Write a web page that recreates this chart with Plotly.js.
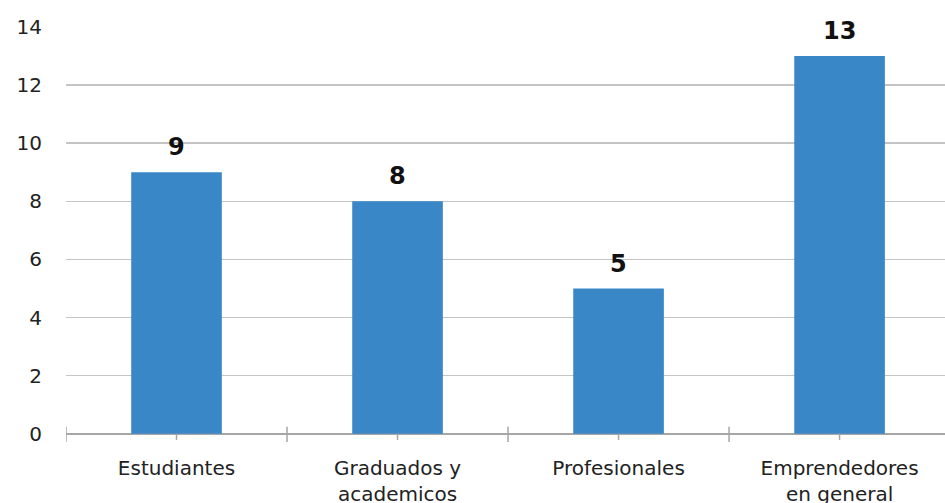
<!DOCTYPE html>
<html>
<head>
<meta charset="utf-8">
<script src="https://cdn.plot.ly/plotly-3.0.1.min.js"></script>
<style>html,body{margin:0;padding:0;background:#fff;}#chart{width:945px;height:503px;}</style>
</head>
<body>
<div id="chart"></div>
<script>
var categories = ["Estudiantes", "Graduados y<br>academicos", "Profesionales", "Emprendedores<br>en general"];
var values = [9, 8, 5, 13];
var yTicks = [0, 2, 4, 6, 8, 10, 12, 14];

var barColor = "#3a87c8";
var axisGray = "#a6a6a6";
var fontFam = "DejaVu Sans, sans-serif";

var shapes = [];
categories.forEach(function (c, i) {
  shapes.push({type: "line", xref: "x", yref: "y", x0: i, x1: i, y0: 0, y1: -0.21,
    line: {color: axisGray, width: 1.5}});
  shapes.push({type: "line", xref: "x", yref: "y", x0: i - 0.5, x1: i - 0.5, y0: 0.24, y1: -0.28,
    line: {color: axisGray, width: 1.5}});
});

var annotations = values.map(function (v, i) {
  return {x: i, y: v, xref: "x", yref: "y", text: "<b>" + String(v) + "</b>", showarrow: false,
    yanchor: "bottom", yshift: 9,
    font: {family: fontFam, size: 24, color: "#111"}};
});

var trace = {
  type: "bar",
  x: [0, 1, 2, 3],
  y: values,
  marker: {color: barColor},
  hoverinfo: "none"
};

var layout = {
  width: 945, height: 503,
  margin: {l: 66, r: 0, t: 27, b: 59},
  paper_bgcolor: "#fff", plot_bgcolor: "#fff",
  showlegend: false,
  bargap: 0.59,
  font: {family: fontFam, color: "#222"},
  xaxis: {
    type: "linear",
    range: [-0.5, 3.477],
    tickmode: "array",
    tickvals: [0, 1, 2, 3],
    ticktext: categories,
    ticks: "outside", ticklen: 6, tickcolor: "rgba(0,0,0,0)",
    showgrid: false, zeroline: false, showline: false,
    tickfont: {family: fontFam, size: 20, color: "#222"}
  },
  yaxis: {
    range: [-0.35, 14],
    tickmode: "array",
    tickvals: yTicks,
    ticktext: yTicks.map(String),
    ticks: "outside", ticklen: 19, tickcolor: "rgba(0,0,0,0)",
    showgrid: true, gridcolor: "#c4c4c4", gridwidth: 1.5,
    zeroline: true, zerolinecolor: axisGray, zerolinewidth: 1.5,
    showline: false,
    tickfont: {family: fontFam, size: 20, color: "#222"}
  },
  shapes: shapes,
  annotations: annotations
};

Plotly.newPlot("chart", [trace], layout, {displayModeBar: false, staticPlot: true});
</script>
</body>
</html>
